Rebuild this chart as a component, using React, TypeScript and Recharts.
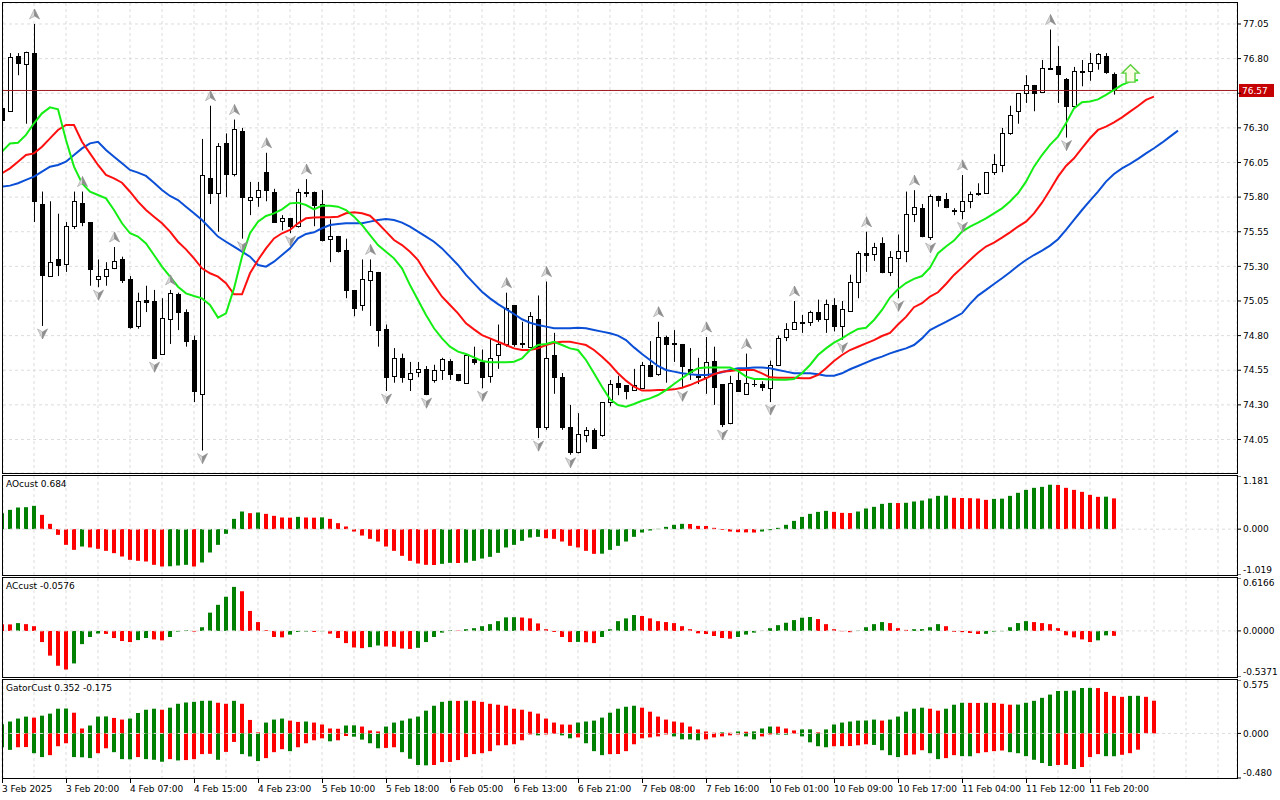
import React from "react";
import {
  Bar,
  CartesianGrid,
  Cell,
  ComposedChart,
  Line,
  ReferenceLine,
  Scatter,
  XAxis,
  YAxis
} from "recharts";

const FONT = "DejaVu Sans";
const GREEN = "#008000";
const RED = "#ff0000";
const GRID = "#dcdcdc";

// ---------- data ----------
const timeLabels = [
  "3 Feb 2025", "3 Feb 20:00", "4 Feb 07:00", "4 Feb 15:00", "4 Feb 23:00", "5 Feb 10:00",
  "5 Feb 18:00", "6 Feb 05:00", "6 Feb 13:00", "6 Feb 21:00", "7 Feb 08:00", "7 Feb 16:00",
  "10 Feb 01:00", "10 Feb 09:00", "10 Feb 17:00", "11 Feb 04:00", "11 Feb 12:00", "11 Feb 20:00"
];
const timeTicks = [0, 8, 16, 24, 32, 40, 48, 56, 64, 72, 80, 88, 96, 104, 112, 120, 128, 136];

const opens = [
  76.44, 76.42, 76.82, 76.76, 76.84, 75.75, 75.23, 75.35, 75.32, 75.59,
  75.76, 75.62, 75.21, 75.23, 75.29, 75.35, 75.21, 74.87, 75.055, 75.05,
  74.67, 74.92, 75.10, 74.97, 74.77, 74.38, 75.94, 75.83, 76.19, 75.97,
  76.28, 75.78, 75.80, 75.98, 75.84, 75.63, 75.65, 75.59, 75.835, 75.84,
  75.75, 75.50, 75.52, 75.42, 75.13, 75.02, 75.20, 75.26, 74.85, 74.51,
  74.64, 74.49, 74.54, 74.56, 74.48, 74.55, 74.62, 74.52, 74.46, 74.63,
  74.61, 74.51, 74.66, 74.74, 75.02, 74.745, 74.72, 74.92, 74.14, 74.66,
  74.50, 74.14, 73.96, 74.08, 74.12, 74.08, 74.32, 74.46, 74.44, 74.41,
  74.42, 74.59, 74.52, 74.79, 74.747, 74.74, 74.56, 74.506, 74.50, 74.62,
  74.45, 74.17, 74.48, 74.38, 74.453, 74.45, 74.42, 74.59, 74.79, 74.85,
  74.898, 74.90, 74.97, 74.92, 75.02, 74.87, 74.98, 75.19, 75.395, 75.39,
  75.47, 75.26, 75.36, 75.41, 75.68, 75.72, 75.51, 75.81, 75.79, 75.71,
  75.70, 75.77, 75.83, 75.83, 75.98, 76.03, 76.26, 76.42, 76.55, 76.61,
  76.56, 76.735, 76.75, 76.65, 76.46, 76.711, 76.71, 76.77, 76.82, 76.69
];
const highs = [
  76.46, 76.84, 76.84, 76.85, 77.05, 75.84, 75.77, 75.68, 75.62, 75.84,
  75.84, 75.62, 75.35, 75.33, 75.44, 75.37, 75.23, 75.11, 75.16, 75.13,
  75.07, 75.13, 75.11, 74.99, 74.80, 76.22, 76.46, 76.19, 76.26, 76.36,
  76.30, 75.91, 75.91, 76.12, 75.86, 75.67, 75.65, 75.86, 75.93, 75.84,
  75.85, 75.64, 75.52, 75.50, 75.13, 75.35, 75.35, 75.26, 74.88, 74.71,
  74.67, 74.61, 74.61, 74.58, 74.59, 74.64, 74.63, 74.52, 74.66, 74.72,
  74.70, 74.78, 74.88, 75.11, 75.02, 74.90, 74.97, 75.09, 75.19, 74.82,
  74.53, 74.30, 74.24, 74.14, 74.13, 74.32, 74.48, 74.51, 74.44, 74.56,
  74.61, 74.76, 74.90, 74.80, 74.84, 74.74, 74.71, 74.64, 74.79, 74.72,
  74.45, 74.51, 74.55, 74.67, 74.48, 74.47, 74.62, 74.80, 74.89, 75.05,
  74.95, 74.98, 75.06, 75.06, 75.07, 75.05, 75.24, 75.41, 75.55, 75.47,
  75.51, 75.41, 75.53, 75.84, 75.85, 75.75, 75.82, 75.81, 75.83, 75.72,
  75.96, 75.84, 75.90, 75.98, 76.11, 76.30, 76.46, 76.55, 76.68, 76.61,
  76.79, 77.01, 76.89, 76.66, 76.74, 76.79, 76.84, 76.84, 76.84, 76.70
];
const lows = [
  76.30, 76.42, 76.68, 76.33, 75.62, 74.87, 75.23, 75.23, 75.26, 75.57,
  75.59, 75.16, 75.15, 75.16, 75.28, 75.18, 74.85, 74.85, 74.97, 74.63,
  74.66, 74.74, 74.84, 74.72, 74.32, 73.97, 75.75, 75.55, 75.80, 75.95,
  75.50, 75.67, 75.73, 75.77, 75.62, 75.56, 75.54, 75.58, 75.80, 75.59,
  75.48, 75.33, 75.40, 75.07, 74.94, 74.98, 74.87, 74.72, 74.40, 74.46,
  74.46, 74.40, 74.50, 74.37, 74.46, 74.48, 74.48, 74.47, 74.46, 74.59,
  74.42, 74.46, 74.56, 74.72, 74.72, 74.71, 74.71, 74.06, 74.12, 74.38,
  74.12, 73.94, 73.95, 74.03, 73.99, 74.07, 74.29, 74.37, 74.34, 74.40,
  74.42, 74.50, 74.51, 74.46, 74.61, 74.42, 74.48, 74.45, 74.38, 74.30,
  74.14, 74.16, 74.40, 74.38, 74.43, 74.40, 74.32, 74.58, 74.76, 74.85,
  74.82, 74.87, 74.90, 74.82, 74.83, 74.77, 74.98, 75.07, 75.26, 75.34,
  75.25, 75.23, 75.07, 75.33, 75.62, 75.51, 75.49, 75.73, 75.72, 75.67,
  75.64, 75.72, 75.81, 75.83, 75.96, 75.98, 76.25, 76.33, 76.48, 76.42,
  76.56, 76.72, 76.48, 76.23, 76.45, 76.60, 76.64, 76.72, 76.69, 76.54
];
const closes = [
  76.36, 76.81, 76.77, 76.85, 75.77, 75.24, 75.33, 75.31, 75.59, 75.77,
  75.62, 75.28, 75.23, 75.28, 75.34, 75.20, 74.86, 75.05, 75.045, 74.64,
  74.93, 75.11, 74.97, 74.76, 74.40, 75.96, 75.83, 76.17, 75.97, 76.29,
  75.80, 75.80, 75.85, 75.85, 75.62, 75.65, 75.59, 75.84, 75.83, 75.74,
  75.49, 75.52, 75.41, 75.13, 75.00, 75.21, 75.27, 74.84, 74.50, 74.64,
  74.50, 74.53, 74.56, 74.38, 74.55, 74.63, 74.52, 74.48, 74.66, 74.61,
  74.50, 74.64, 74.74, 75.00, 74.74, 74.737, 74.94, 74.14, 74.64, 74.50,
  74.14, 73.96, 74.09, 74.12, 73.99, 74.32, 74.45, 74.43, 74.40, 74.44,
  74.59, 74.51, 74.79, 74.74, 74.739, 74.58, 74.54, 74.501, 74.61, 74.43,
  74.16, 74.46, 74.40, 74.46, 74.448, 74.43, 74.59, 74.78, 74.85, 74.90,
  74.894, 74.97, 74.92, 75.03, 74.87, 74.99, 75.19, 75.40, 75.385, 75.44,
  75.26, 75.37, 75.41, 75.68, 75.73, 75.52, 75.81, 75.78, 75.73, 75.70,
  75.77, 75.82, 75.82, 75.98, 76.04, 76.26, 76.39, 76.55, 76.61, 76.55,
  76.73, 76.727, 76.69, 76.46, 76.71, 76.706, 76.77, 76.83, 76.70, 76.57
];

const lips = [
  76.128, 76.188, 76.193, 76.249, 76.333, 76.405, 76.448, 76.434, 76.213, 76.02,
  75.90, 75.839, 75.815, 75.791, 75.707, 75.611, 75.539, 75.515, 75.466, 75.382,
  75.298, 75.226, 75.153, 75.105, 75.086, 75.069, 75.021, 74.93, 74.961, 75.141,
  75.37, 75.539, 75.623, 75.664, 75.683, 75.712, 75.755, 75.76, 75.743, 75.712,
  75.738, 75.738, 75.731, 75.707, 75.659, 75.599, 75.526, 75.454, 75.406, 75.358,
  75.286, 75.165, 75.057, 74.949, 74.853, 74.78, 74.72, 74.684, 74.667, 74.643,
  74.617, 74.607, 74.607, 74.607, 74.612, 74.636, 74.696, 74.732, 74.74, 74.756,
  74.732, 74.708, 74.696, 74.624, 74.528, 74.431, 74.34, 74.299, 74.287, 74.306,
  74.33, 74.347, 74.371, 74.407, 74.451, 74.492, 74.533, 74.564, 74.569, 74.569,
  74.569, 74.569, 74.545, 74.504, 74.487, 74.487, 74.484, 74.482, 74.482, 74.487,
  74.528, 74.588, 74.66, 74.708, 74.749, 74.78, 74.817, 74.848, 74.857, 74.913,
  74.985, 75.075, 75.135, 75.18, 75.21, 75.23, 75.29, 75.395, 75.443, 75.486,
  75.551, 75.587, 75.616, 75.647, 75.683, 75.719, 75.768, 75.828, 75.912, 76.02,
  76.104, 76.177, 76.237, 76.333, 76.441, 76.485, 76.49, 76.506, 76.538, 76.574,
  76.61, 76.634, 76.646
];
const teeth = [
  75.972, 76.008, 76.056, 76.104, 76.116, 76.164, 76.224, 76.285, 76.321, 76.321,
  76.20, 76.116, 76.032, 75.96, 75.936, 75.904, 75.839, 75.767, 75.707, 75.659,
  75.611, 75.551, 75.478, 75.423, 75.358, 75.286, 75.25, 75.226, 75.178, 75.098,
  75.098, 75.25, 75.346, 75.43, 75.502, 75.539, 75.563, 75.611, 75.647, 75.652,
  75.654, 75.654, 75.659, 75.683, 75.69, 75.683, 75.666, 75.611, 75.551, 75.49,
  75.454, 75.406, 75.346, 75.25, 75.165, 75.081, 75.021, 74.961, 74.889, 74.845,
  74.804, 74.78, 74.756, 74.732, 74.708, 74.696, 74.696, 74.708, 74.732, 74.749,
  74.756, 74.756, 74.744, 74.732, 74.696, 74.648, 74.593, 74.528, 74.475, 74.431,
  74.403, 74.403, 74.407, 74.407, 74.412, 74.424, 74.443, 74.468, 74.492, 74.521,
  74.54, 74.545, 74.552, 74.552, 74.552, 74.528, 74.499, 74.496, 74.496, 74.496,
  74.492, 74.492, 74.516, 74.564, 74.617, 74.66, 74.696, 74.72, 74.744, 74.768,
  74.797, 74.82, 74.88, 74.935, 75.005, 75.034, 75.082, 75.113, 75.173, 75.238,
  75.291, 75.346, 75.399, 75.443, 75.472, 75.508, 75.546, 75.587, 75.623, 75.683,
  75.76, 75.852, 75.948, 76.025, 76.08, 76.153, 76.225, 76.285, 76.309, 76.34,
  76.376, 76.417, 76.458, 76.502, 76.526
];
const jaw = [
  75.876, 75.883, 75.90, 75.924, 75.948, 75.984, 76.02, 76.032, 76.056, 76.104,
  76.152, 76.188, 76.20, 76.14, 76.092, 76.044, 75.996, 75.977, 75.953, 75.904,
  75.851, 75.808, 75.779, 75.731, 75.683, 75.635, 75.575, 75.515, 75.478, 75.442,
  75.406, 75.37, 75.31, 75.298, 75.334, 75.382, 75.43, 75.502, 75.534, 75.546,
  75.575, 75.599, 75.606, 75.611, 75.611, 75.611, 75.623, 75.635, 75.642, 75.635,
  75.616, 75.587, 75.551, 75.515, 75.478, 75.43, 75.37, 75.31, 75.238, 75.177,
  75.117, 75.069, 75.028, 74.992, 74.956, 74.918, 74.893, 74.877, 74.865, 74.853,
  74.853, 74.853, 74.857, 74.853, 74.841, 74.829, 74.817, 74.80, 74.768, 74.715,
  74.667, 74.624, 74.581, 74.552, 74.54, 74.528, 74.521, 74.516, 74.516, 74.523,
  74.535, 74.552, 74.564, 74.564, 74.569, 74.569, 74.564, 74.552, 74.54, 74.528,
  74.528, 74.528, 74.521, 74.511, 74.511, 74.528, 74.557, 74.581, 74.605, 74.629,
  74.648, 74.672, 74.691, 74.708, 74.732, 74.78, 74.84, 74.87, 74.899, 74.93,
  74.961, 75.029, 75.089, 75.13, 75.173, 75.214, 75.257, 75.305, 75.346, 75.382,
  75.414, 75.45, 75.496, 75.563, 75.635, 75.707, 75.775, 75.84, 75.912, 75.967,
  76.008, 76.04, 76.076, 76.116, 76.153, 76.193, 76.237, 76.28
];

const fractalUp = [4, 10, 14, 21, 26, 29, 33, 38, 46, 63, 68, 82, 88, 93, 99, 108, 114, 120, 131];
const fractalDown = [5, 12, 19, 25, 30, 36, 48, 53, 60, 67, 71, 85, 90, 96, 105, 112, 116, 120, 133];
const signalUp = [{ i: 141, p: 76.63 }];
const lastPrice = 76.57;
const priceTicks = [74.05, 74.3, 74.55, 74.8, 75.05, 75.3, 75.55, 75.8, 76.05, 76.3, 76.55, 76.8, 77.05];

const ao = [
  0.355, 0.429, 0.481, 0.488, 0.518, 0.318, 0.118, -0.127, -0.349, -0.46,
  -0.386, -0.407, -0.437, -0.482, -0.534, -0.608, -0.682, -0.704, -0.719, -0.793,
  -0.83, -0.825, -0.808, -0.793, -0.83, -0.741, -0.519, -0.349, -0.104, 0.229,
  0.392, 0.355, 0.37, 0.34, 0.296, 0.259, 0.255, 0.273, 0.259, 0.255,
  0.262, 0.229, 0.133, 0.059, -0.053, -0.142, -0.216, -0.275, -0.386, -0.482,
  -0.593, -0.704, -0.764, -0.793, -0.797, -0.771, -0.749, -0.752, -0.745, -0.704,
  -0.653, -0.616, -0.527, -0.407, -0.349, -0.26, -0.186, -0.171, -0.201, -0.216,
  -0.275, -0.371, -0.407, -0.482, -0.549, -0.545, -0.46, -0.371, -0.275, -0.171,
  -0.075, -0.03, 0.007, 0.051, 0.096, 0.118, 0.115, 0.073, 0.07, 0.029,
  -0.016, -0.053, -0.067, -0.072, -0.075, -0.053, -0.023, 0.029, 0.096, 0.184,
  0.273, 0.34, 0.384, 0.407, 0.384, 0.362, 0.358, 0.392, 0.459, 0.496,
  0.562, 0.584, 0.58, 0.586, 0.614, 0.636, 0.681, 0.74, 0.745, 0.696,
  0.692, 0.688, 0.681, 0.651, 0.673, 0.678, 0.74, 0.807, 0.873, 0.918,
  0.94, 0.987, 0.982, 0.918, 0.873, 0.829, 0.762, 0.718, 0.722, 0.684
];
const aoBefore = 0.3;
const aoRange = [-1.019, 1.181];

const ac = [
  0.079, 0.076, 0.091, 0.079, 0.055, -0.13, -0.288, -0.406, -0.45, -0.379,
  -0.154, -0.071, -0.03, -0.035, -0.083, -0.118, -0.13, -0.107, -0.083, -0.099,
  -0.11, -0.071, -0.008, 0.008, -0.008, 0.043, 0.213, 0.304, 0.398, 0.513,
  0.462, 0.233, 0.103, 0.008, -0.071, -0.075, -0.043, -0.012, -0.008, -0.012,
  -0.004, -0.032, -0.083, -0.142, -0.193, -0.201, -0.189, -0.17, -0.181, -0.185,
  -0.205, -0.21, -0.197, -0.13, -0.071, -0.02, 0.008, 0.004, 0.02, 0.032,
  0.055, 0.079, 0.114, 0.158, 0.16, 0.156, 0.146, 0.087, 0.02, -0.012,
  -0.071, -0.13, -0.128, -0.132, -0.142, -0.071, 0.02, 0.114, 0.146, 0.185,
  0.174, 0.146, 0.114, 0.103, 0.091, 0.055, 0.02, -0.028, -0.036, -0.059,
  -0.083, -0.091, -0.071, -0.043, -0.02, 0.002, 0.032, 0.067, 0.095, 0.126,
  0.154, 0.162, 0.138, 0.079, 0.02, -0.004, -0.015, 0.004, 0.043, 0.079,
  0.103, 0.091, 0.032, 0.012, 0.02, 0.021, 0.043, 0.079, 0.055, -0.012,
  -0.014, -0.024, -0.036, -0.034, -0.008, -0.004, 0.043, 0.091, 0.114, 0.103,
  0.091, 0.079, 0.032, -0.051, -0.075, -0.099, -0.13, -0.11, -0.052, -0.0576
];
const acBefore = 0.09;
const acRange = [-0.5371, 0.6166];

const gatorUp = [
  0.099, 0.128, 0.16, 0.181, 0.17, 0.191, 0.213, 0.266, 0.268, 0.223,
  0.053, 0.085, 0.181, 0.183, 0.167, 0.149, 0.16, 0.22, 0.255, 0.266,
  0.255, 0.277, 0.319, 0.333, 0.34, 0.351, 0.352, 0.33, 0.319, 0.351,
  0.319, 0.145, 0.011, 0.117, 0.149, 0.16, 0.138, 0.124, 0.128, 0.117,
  0.096, 0.053, 0.05, 0.085, 0.087, 0.074, 0.032, 0.021, 0.074, 0.117,
  0.138, 0.16, 0.181, 0.245, 0.298, 0.34, 0.351, 0.35, 0.352, 0.351,
  0.34, 0.319, 0.309, 0.298, 0.266, 0.255, 0.234, 0.213, 0.16, 0.117,
  0.096, 0.094, 0.117, 0.128, 0.138, 0.17, 0.223, 0.266, 0.287, 0.298,
  0.277, 0.234, 0.181, 0.149, 0.128, 0.117, 0.074, 0.043, 0.021, 0.007,
  0.011, 0.007, 0.021, 0.018, 0.022, 0.053, 0.074, 0.073, 0.053, 0.032,
  0.043, 0.044, 0.011, 0.043, 0.096, 0.117, 0.128, 0.138, 0.139, 0.149,
  0.138, 0.149, 0.181, 0.234, 0.266, 0.277, 0.266, 0.245, 0.266, 0.309,
  0.33, 0.329, 0.328, 0.33, 0.329, 0.319, 0.309, 0.31, 0.33, 0.351,
  0.383, 0.418, 0.457, 0.458, 0.461, 0.489, 0.49, 0.488, 0.447, 0.404,
  0.394, 0.404, 0.405, 0.394, 0.352
];
const gatorDown = [
  -0.149, -0.177, -0.149, -0.147, -0.213, -0.255, -0.234, -0.138, -0.106, -0.255,
  -0.257, -0.266, -0.213, -0.16, -0.202, -0.277, -0.279, -0.255, -0.277, -0.284,
  -0.305, -0.277, -0.291, -0.287, -0.277, -0.223, -0.22, -0.284, -0.199, -0.092,
  -0.223, -0.248, -0.298, -0.266, -0.202, -0.17, -0.191, -0.149, -0.106, -0.074,
  -0.053, -0.085, -0.074, -0.028, -0.035, -0.067, -0.106, -0.16, -0.156, -0.149,
  -0.202, -0.273, -0.34, -0.344, -0.34, -0.309, -0.307, -0.287, -0.255, -0.223,
  -0.213, -0.191, -0.128, -0.127, -0.117, -0.074, -0.011, -0.021, -0.011, -0.004,
  -0.021, -0.053, -0.043, -0.106, -0.191, -0.234, -0.223, -0.222, -0.191, -0.117,
  -0.053, -0.043, -0.032, -0.011, -0.032, -0.064, -0.065, -0.074, -0.064, -0.043,
  -0.032, -0.021, -0.011, -0.032, -0.064, -0.032, -0.011, -0.012, -0.014, -0.002,
  -0.032, -0.096, -0.138, -0.149, -0.138, -0.137, -0.136, -0.128, -0.117, -0.124,
  -0.181, -0.234, -0.255, -0.234, -0.227, -0.181, -0.213, -0.277, -0.266, -0.234,
  -0.245, -0.246, -0.213, -0.202, -0.191, -0.184, -0.202, -0.213, -0.245, -0.284,
  -0.319, -0.351, -0.34, -0.339, -0.383, -0.362, -0.255, -0.223, -0.245, -0.246,
  -0.23, -0.213, -0.175
];
const gatorUpBefore = 0.09;
const gatorDownBefore = -0.14;
const gatorRange = [-0.48, 0.575];

// ---------- tables built from the arrays ----------
const X_DOMAIN = [0.125, 154.375];
const gridIdx = Array.from({ length: 38 }, (_, k) => 4 + 4 * k);

const rows = jaw.map((j, i) => ({
  i,
  o: opens[i],
  h: highs[i],
  l: lows[i],
  c: closes[i],
  lips: lips[i],
  teeth: teeth[i],
  jaw: j
}));
const upPoints = fractalUp.map((i) => ({ i, p: highs[i] }));
const downPoints = fractalDown.map((i) => ({ i, p: lows[i] }));

const risingColors = (vals: number[], before: number) =>
  vals.map((v, k) => (v > (k === 0 ? before : vals[k - 1]) ? GREEN : RED));
const widenColors = (vals: number[], before: number) =>
  vals.map((v, k) => (Math.abs(v) > Math.abs(k === 0 ? before : vals[k - 1]) ? GREEN : RED));

const aoRows = ao.map((v, i) => ({ i, v }));
const acRows = ac.map((v, i) => ({ i, v }));
const gatorRows = gatorUp.map((u, i) => ({ i, up: u, down: gatorDown[i] }));
const aoColors = risingColors(ao, aoBefore);
const acColors = risingColors(ac, acBefore);
const gUpColors = widenColors(gatorUp, gatorUpBefore);
const gDownColors = widenColors(gatorDown, gatorDownBefore);

// ---------- shapes ----------
function Candle(props: any) {
  const { x, width, y, height, payload } = props;
  if (!payload || payload.h == null) return null;
  const n = Math.round(x + width / 2);
  const top = Math.min(y, y + height);
  const bottom = Math.max(y, y + height);
  const span = payload.h - payload.l;
  const toPx = (v: number) => (span > 0 ? bottom - ((v - payload.l) / span) * (bottom - top) : top);
  const bull = payload.c >= payload.o;
  const bt = Math.round(toPx(Math.max(payload.o, payload.c)));
  const bb = Math.round(toPx(Math.min(payload.o, payload.c)));
  return (
    <g>
      <line x1={n + 0.5} x2={n + 0.5} y1={top} y2={bottom} stroke="#000" strokeWidth={1} />
      {bb - bt < 1 ? (
        <line x1={n - 2} x2={n + 3} y1={bt + 0.5} y2={bt + 0.5} stroke="#000" strokeWidth={1} />
      ) : (
        <rect x={n - 1.5} y={bt + 0.5} width={4} height={bb - bt} fill={bull ? "#fff" : "#000"} stroke="#000" strokeWidth={1} />
      )}
    </g>
  );
}

function FractalUp(props: any) {
  const { cx, cy } = props;
  if (cx == null || cy == null) return null;
  const x = cx + 0.5;
  const y = cy - 10;
  return (
    <g>
      <polygon points={`${x},${y - 5} ${x - 5},${y + 5} ${x},${y + 2}`} fill="#d8d8d8" stroke="#a8a8a8" strokeWidth={0.7} strokeLinejoin="round" />
      <polygon points={`${x},${y - 5} ${x},${y + 2} ${x + 5},${y + 5}`} fill="#8e8e8e" stroke="#8e8e8e" strokeWidth={0.7} strokeLinejoin="round" />
    </g>
  );
}

function FractalDown(props: any) {
  const { cx, cy } = props;
  if (cx == null || cy == null) return null;
  const x = cx + 0.5;
  const y = cy + 8;
  return (
    <g>
      <polygon points={`${x},${y + 5} ${x - 5},${y - 5} ${x},${y - 2}`} fill="#d8d8d8" stroke="#a8a8a8" strokeWidth={0.7} strokeLinejoin="round" />
      <polygon points={`${x},${y + 5} ${x},${y - 2} ${x + 5},${y - 5}`} fill="#8e8e8e" stroke="#8e8e8e" strokeWidth={0.7} strokeLinejoin="round" />
    </g>
  );
}

function SignalArrow(props: any) {
  const { cx, cy } = props;
  if (cx == null || cy == null) return null;
  const x = cx + 0.5;
  const b = cy;
  const pts = [
    [x - 4.5, b], [x - 4.5, b - 9], [x - 8.5, b - 9], [x, b - 17.5],
    [x + 8.5, b - 9], [x + 4.5, b - 9], [x + 4.5, b]
  ];
  return (
    <polygon points={pts.map((p) => p.join(",")).join(" ")} fill="#fbfde6" stroke="#5ccf3e" strokeWidth={1.4} strokeLinejoin="miter" />
  );
}

function PriceTag(props: any) {
  const { viewBox, price } = props;
  if (!viewBox) return null;
  const x = viewBox.x + viewBox.width + 2;
  const y = viewBox.y;
  return (
    <g>
      <rect x={x} y={y - 6.5} width={35} height={13} fill="#c40000" />
      <text x={x + 3} y={y} dy="0.36em" fill="#fff" fontSize={9} fontFamily={FONT}>
        {price.toFixed(2)}
      </text>
    </g>
  );
}

function EdgeTick(props: any) {
  const { x, y, payload, range, digits } = props;
  const v = payload.value;
  const shift = v === range[1] ? 5 : v === range[0] ? -5 : 0;
  return (
    <text x={x} y={y + shift} dy="0.36em" textAnchor="start" fontSize={9} fontFamily={FONT} fill="#000">
      {v.toFixed(digits)}
    </text>
  );
}

// grid ticks run every 4 bars; a date label and a tick mark go on every 8th bar
function TimeTick(props: any) {
  const { x, y, payload } = props;
  const k = timeTicks.indexOf(payload.value);
  if (k < 0) return null;
  const px = Math.round(x) + 0.5;
  return (
    <g>
      <line x1={px} x2={px} y1={y - 7} y2={y - 2} stroke="#000" strokeWidth={1} />
      <text x={x} y={y} dy="0.75em" textAnchor="start" fontSize={9} fontFamily={FONT} fill="#000">
        {timeLabels[k]}
      </text>
    </g>
  );
}

// ---------- panels ----------
const gridXAxis = (
  <XAxis dataKey="i" type="number" domain={X_DOMAIN} allowDataOverflow ticks={gridIdx} interval={0} hide />
);

function MainChart() {
  return (
    <ComposedChart width={1280} height={474} data={rows} margin={{ top: 3, right: 0, bottom: 1, left: 3 }}>
      <CartesianGrid stroke={GRID} strokeDasharray="3 3" />
      {gridXAxis}
      <YAxis
        orientation="right"
        width={43}
        domain={[73.8081, 77.2016]}
        allowDataOverflow
        ticks={priceTicks}
        interval={0}
        axisLine={false}
        tickSize={4}
        tickLine={{ stroke: "#000" }}
        tick={{ fontSize: 9, fill: "#000", fontFamily: FONT }}
        tickFormatter={(v: number) => (v === 76.55 ? "" : v.toFixed(2))}
      />
      <ReferenceLine y={lastPrice} stroke="#9c1a1a" strokeWidth={1} label={<PriceTag price={lastPrice} />} />
      <Bar
        dataKey={(d: any) => (d.h == null ? null : [d.l, d.h])}
        barSize={5}
        shape={<Candle />}
        isAnimationActive={false}
      />
      <Line type="linear" dataKey="jaw" stroke="#0a4fd6" strokeWidth={2} dot={false} isAnimationActive={false} />
      <Line type="linear" dataKey="teeth" stroke="#ff1010" strokeWidth={2} dot={false} isAnimationActive={false} />
      <Line type="linear" dataKey="lips" stroke="#14ee14" strokeWidth={2} dot={false} isAnimationActive={false} />
      <Scatter data={upPoints} dataKey="p" shape={<FractalUp />} isAnimationActive={false} />
      <Scatter data={downPoints} dataKey="p" shape={<FractalDown />} isAnimationActive={false} />
      <Scatter data={signalUp} dataKey="p" shape={<SignalArrow />} isAnimationActive={false} />
    </ComposedChart>
  );
}

function OscChart({ data, colors, range, digits }: { data: any[]; colors: string[]; range: number[]; digits: number }) {
  return (
    <ComposedChart width={1280} height={99} data={data} margin={{ top: 0, right: 0, bottom: 0, left: 3 }}>
      <CartesianGrid stroke={GRID} strokeDasharray="3 3" horizontal={false} />
      {gridXAxis}
      <YAxis
        orientation="right"
        width={43}
        domain={range}
        allowDataOverflow
        ticks={[range[0], 0, range[1]]}
        interval={0}
        axisLine={false}
        tickSize={4}
        tickLine={{ stroke: "#000" }}
        tick={<EdgeTick range={range} digits={digits} />}
      />
      <ReferenceLine y={0} stroke={GRID} strokeDasharray="3 3" />
      <Bar dataKey="v" barSize={4} isAnimationActive={false}>
        {data.map((_, k) => (
          <Cell key={k} fill={colors[k]} />
        ))}
      </Bar>
    </ComposedChart>
  );
}

function GatorChart() {
  return (
    <ComposedChart width={1280} height={120} data={gatorRows} stackOffset="sign" margin={{ top: 0, right: 0, bottom: 0, left: 3 }}>
      <CartesianGrid stroke={GRID} strokeDasharray="3 3" horizontal={false} />
      <XAxis
        dataKey="i"
        type="number"
        domain={X_DOMAIN}
        allowDataOverflow
        ticks={gridIdx.concat([0]).sort((a, b) => a - b)}
        interval={0}
        height={22}
        axisLine={false}
        tickLine={false}
        tickSize={5}
        tickMargin={2}
        tick={<TimeTick />}
      />
      <YAxis
        orientation="right"
        width={43}
        domain={gatorRange}
        allowDataOverflow
        ticks={[gatorRange[0], 0, gatorRange[1]]}
        interval={0}
        axisLine={false}
        tickSize={4}
        tickLine={{ stroke: "#000" }}
        tick={<EdgeTick range={gatorRange} digits={3} />}
      />
      <ReferenceLine y={0} stroke={GRID} strokeDasharray="3 3" />
      <Bar dataKey="up" stackId="g" barSize={4} isAnimationActive={false}>
        {gatorRows.map((_, k) => (
          <Cell key={k} fill={gUpColors[k]} />
        ))}
      </Bar>
      <Bar dataKey="down" stackId="g" barSize={4} isAnimationActive={false}>
        {gatorRows.map((_, k) => (
          <Cell key={k} fill={gDownColors[k] || RED} />
        ))}
      </Bar>
    </ComposedChart>
  );
}

const frame = (top: number, height: number): React.CSSProperties => ({
  position: "absolute",
  left: 2,
  top,
  width: 1236,
  height,
  border: "1px solid #000",
  boxSizing: "border-box",
  pointerEvents: "none"
});

const title = (top: number): React.CSSProperties => ({
  position: "absolute",
  left: 6,
  top,
  fontSize: 9,
  lineHeight: "11px",
  fontFamily: FONT,
  color: "#000",
  whiteSpace: "nowrap"
});

export default function App() {
  return (
    <div style={{ position: "fixed", left: 0, top: 0, width: 1280, height: 800, background: "#fff", overflow: "hidden", fontFamily: FONT }}>
      <div style={{ position: "absolute", left: 0, top: 0 }}>
        <MainChart />
      </div>
      <div style={{ position: "absolute", left: 0, top: 476 }}>
        <OscChart data={aoRows} colors={aoColors} range={aoRange} digits={3} />
      </div>
      <div style={{ position: "absolute", left: 0, top: 578 }}>
        <OscChart data={acRows} colors={acColors} range={acRange} digits={4} />
      </div>
      <div style={{ position: "absolute", left: 0, top: 680 }}>
        <GatorChart />
      </div>
      <div style={frame(2, 472)} />
      <div style={frame(475, 101)} />
      <div style={frame(577, 101)} />
      <div style={frame(679, 100)} />
      <div style={title(479)}>AOcust 0.684</div>
      <div style={title(581)}>ACcust -0.0576</div>
      <div style={title(683)}>GatorCust 0.352 -0.175</div>
    </div>
  );
}
